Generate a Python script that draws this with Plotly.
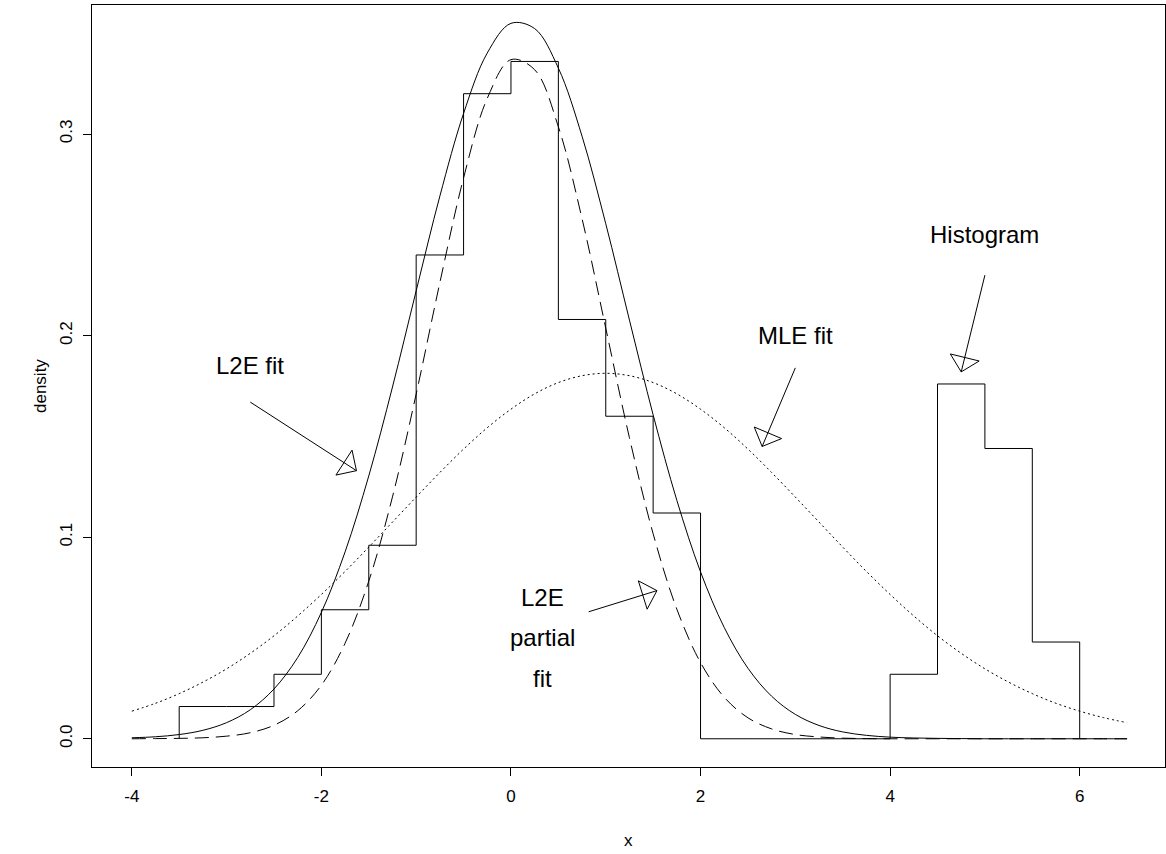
import math
import plotly.graph_objects as go

# ---------------- data ----------------
# histogram (density scale), bin edges every 0.5 from -3.5 to 6
hist_edges = [-3.5, -3.0, -2.5, -2.0, -1.5, -1.0, -0.5, 0.0, 0.5, 1.0, 1.5,
              2.0, 2.5, 3.0, 3.5, 4.0, 4.5, 5.0, 5.5, 6.0]
hist_density = [0.016, 0.016, 0.032, 0.064, 0.096, 0.240, 0.320, 0.336, 0.208,
                0.160, 0.112, 0.0, 0.0, 0.0, 0.0, 0.032, 0.176, 0.144, 0.048]

# sample points of the fitted curves
curve_x = [-4.0, -3.75, -3.5, -3.25, -3.0, -2.75, -2.5, -2.25, -2.0, -1.75,
           -1.5, -1.25, -1.0, -0.75, -0.5, -0.25, 0.0, 0.25, 0.5, 0.75,
           1.0, 1.25, 1.5, 1.75, 2.0, 2.25, 2.5, 2.75, 3.0, 3.25,
           3.5, 3.75, 4.0, 4.25, 4.5, 4.75, 5.0, 5.25, 5.5, 5.75,
           6.0, 6.25, 6.5]

# L2E fit (solid)
l2e_fit = [0.0005, 0.0010, 0.0021, 0.0042, 0.0080, 0.0144, 0.0247, 0.0403, 0.0627, 0.0927,
           0.1304, 0.1745, 0.2222, 0.2692, 0.3102, 0.3402, 0.3549, 0.3523, 0.3327, 0.2989,
           0.2555, 0.2077, 0.1607, 0.1183, 0.0828, 0.0552, 0.0350, 0.0211, 0.0121, 0.0066,
           0.0034, 0.0017, 0.0008, 0.0004, 0.0002, 0.0001, 0.0000, 0.0000, 0.0000, 0.0000,
           0.0000, 0.0000, 0.0000]

# L2E partial fit (dashed)
l2e_partial = [0.0000, 0.0001, 0.0002, 0.0005, 0.0013, 0.0030, 0.0067, 0.0139, 0.0266, 0.0474,
               0.0782, 0.1200, 0.1710, 0.2263, 0.2782, 0.3177, 0.3369, 0.3319, 0.3036, 0.2580,
               0.2037, 0.1493, 0.1017, 0.0643, 0.0378, 0.0206, 0.0104, 0.0049, 0.0021, 0.0009,
               0.0003, 0.0001, 0.0000, 0.0000, 0.0000, 0.0000, 0.0000, 0.0000, 0.0000, 0.0000,
               0.0000, 0.0000, 0.0000]

# MLE fit (dotted)
mle_fit = [0.0137, 0.0176, 0.0224, 0.0281, 0.0347, 0.0424, 0.0511, 0.0609, 0.0716, 0.0830,
           0.0951, 0.1075, 0.1199, 0.1321, 0.1437, 0.1543, 0.1635, 0.1711, 0.1767, 0.1801,
           0.1813, 0.1801, 0.1767, 0.1711, 0.1635, 0.1543, 0.1437, 0.1321, 0.1199, 0.1075,
           0.0951, 0.0830, 0.0716, 0.0609, 0.0511, 0.0424, 0.0347, 0.0281, 0.0224, 0.0176,
           0.0137, 0.0105, 0.0080]

x_tick_vals = [-4, -2, 0, 2, 4, 6]
x_tick_text = ["-4", "-2", "0", "2", "4", "6"]
y_tick_vals = [0.0, 0.1, 0.2, 0.3]
y_tick_text = ["0.0", "0.1", "0.2", "0.3"]

# text labels: (text, x, y)
labels = [("L2E fit", -2.75, 0.185),
          ("MLE fit", 3.0, 0.200),
          ("Histogram", 5.0, 0.250),
          ("L2E", 0.33, 0.070),
          ("partial", 0.33, 0.050),
          ("fit", 0.33, 0.030)]

# arrows: (x_from, y_from, x_to, y_to)
arrows = [(-2.75, 0.167, -1.63, 0.133),
          (3.00, 0.184, 2.65, 0.145),
          (5.00, 0.230, 4.75, 0.182),
          (0.82, 0.063, 1.54, 0.0735)]

# ---------------- layout geometry ----------------
W, H = 1166, 854
M_L, M_R, M_T, M_B = 92, 1, 5, 87
X_RANGE = [-4.42, 6.90]
Y_RANGE = [-0.014, 0.364]
FONT = "Liberation Sans, Arial, Helvetica, sans-serif"

px_per_x = (W - M_L - M_R) / (X_RANGE[1] - X_RANGE[0])
px_per_y = (H - M_T - M_B) / (Y_RANGE[1] - Y_RANGE[0])

fig = go.Figure()

# histogram outline as a step line
hx = [hist_edges[0]] + hist_edges
hy = [0.0] + hist_density + [0.0]
fig.add_trace(go.Scatter(x=hx, y=hy, mode="lines", line=dict(color="black", width=1, shape="hv"),
                         hoverinfo="skip", showlegend=False))

fig.add_trace(go.Scatter(x=curve_x, y=l2e_fit, mode="lines",
                         line=dict(color="black", width=1, shape="spline", smoothing=1.0),
                         showlegend=False))
fig.add_trace(go.Scatter(x=curve_x, y=l2e_partial, mode="lines",
                         line=dict(color="black", width=1, dash="14px,7px", shape="spline", smoothing=1.0),
                         showlegend=False))
fig.add_trace(go.Scatter(x=curve_x, y=mle_fit, mode="lines",
                         line=dict(color="black", width=1, dash="2px,3px", shape="spline", smoothing=1.0),
                         showlegend=False))

# arrows with open triangular heads
HEAD_LEN = 21.0
HEAD_ANG = math.radians(45)
shapes = []
for (x0, y0, x1, y1) in arrows:
    shapes.append(dict(type="line", xref="x", yref="y", x0=x0, y0=y0, x1=x1, y1=y1,
                       line=dict(color="black", width=1)))
    dx = (x1 - x0) * px_per_x
    dy = (y1 - y0) * px_per_y
    n = math.hypot(dx, dy)
    bx, by = -dx / n, -dy / n
    pts = []
    for s in (1, -1):
        ca, sa = math.cos(s * HEAD_ANG), math.sin(s * HEAD_ANG)
        vx = bx * ca - by * sa
        vy = bx * sa + by * ca
        pts.append((x1 + HEAD_LEN * vx / px_per_x, y1 + HEAD_LEN * vy / px_per_y))
    path = "M {:.5f},{:.6f} L {:.5f},{:.6f} L {:.5f},{:.6f} Z".format(
        x1, y1, pts[0][0], pts[0][1], pts[1][0], pts[1][1])
    shapes.append(dict(type="path", xref="x", yref="y", path=path,
                       line=dict(color="black", width=1), fillcolor="rgba(0,0,0,0)"))

annotations = []
for (t, lx, ly) in labels:
    annotations.append(dict(text=t, x=lx, y=ly, xref="x", yref="y", showarrow=False,
                            xanchor="center", yanchor="middle",
                            font=dict(family=FONT, size=24, color="black")))

# axis titles
annotations.append(dict(text="x", xref="paper", yref="paper", x=0.5, y=0, yshift=-73,
                        showarrow=False, xanchor="center", yanchor="middle",
                        font=dict(family=FONT, size=17, color="black")))
annotations.append(dict(text="density", xref="paper", yref="paper", x=0, y=0.5, xshift=-52,
                        showarrow=False, xanchor="center", yanchor="middle", textangle=-90,
                        font=dict(family=FONT, size=17, color="black")))

axis_common = dict(showgrid=False, zeroline=False, showline=True, mirror=True,
                   linecolor="black", linewidth=1, ticks="outside", ticklen=8,
                   tickcolor="black", tickwidth=1,
                   tickfont=dict(family=FONT, size=17, color="black"))

fig.update_layout(
    width=W, height=H,
    margin=dict(l=M_L, r=M_R, t=M_T, b=M_B),
    paper_bgcolor="white", plot_bgcolor="white",
    showlegend=False,
    shapes=shapes,
    annotations=annotations,
    xaxis=dict(range=X_RANGE, tickvals=x_tick_vals, ticktext=x_tick_text,
               ticklabelstandoff=6, **axis_common),
    yaxis=dict(range=Y_RANGE, tickvals=y_tick_vals, ticktext=y_tick_text,
               tickangle=-90, ticklabelstandoff=4, **axis_common),
)

fig.write_html("out.html")
